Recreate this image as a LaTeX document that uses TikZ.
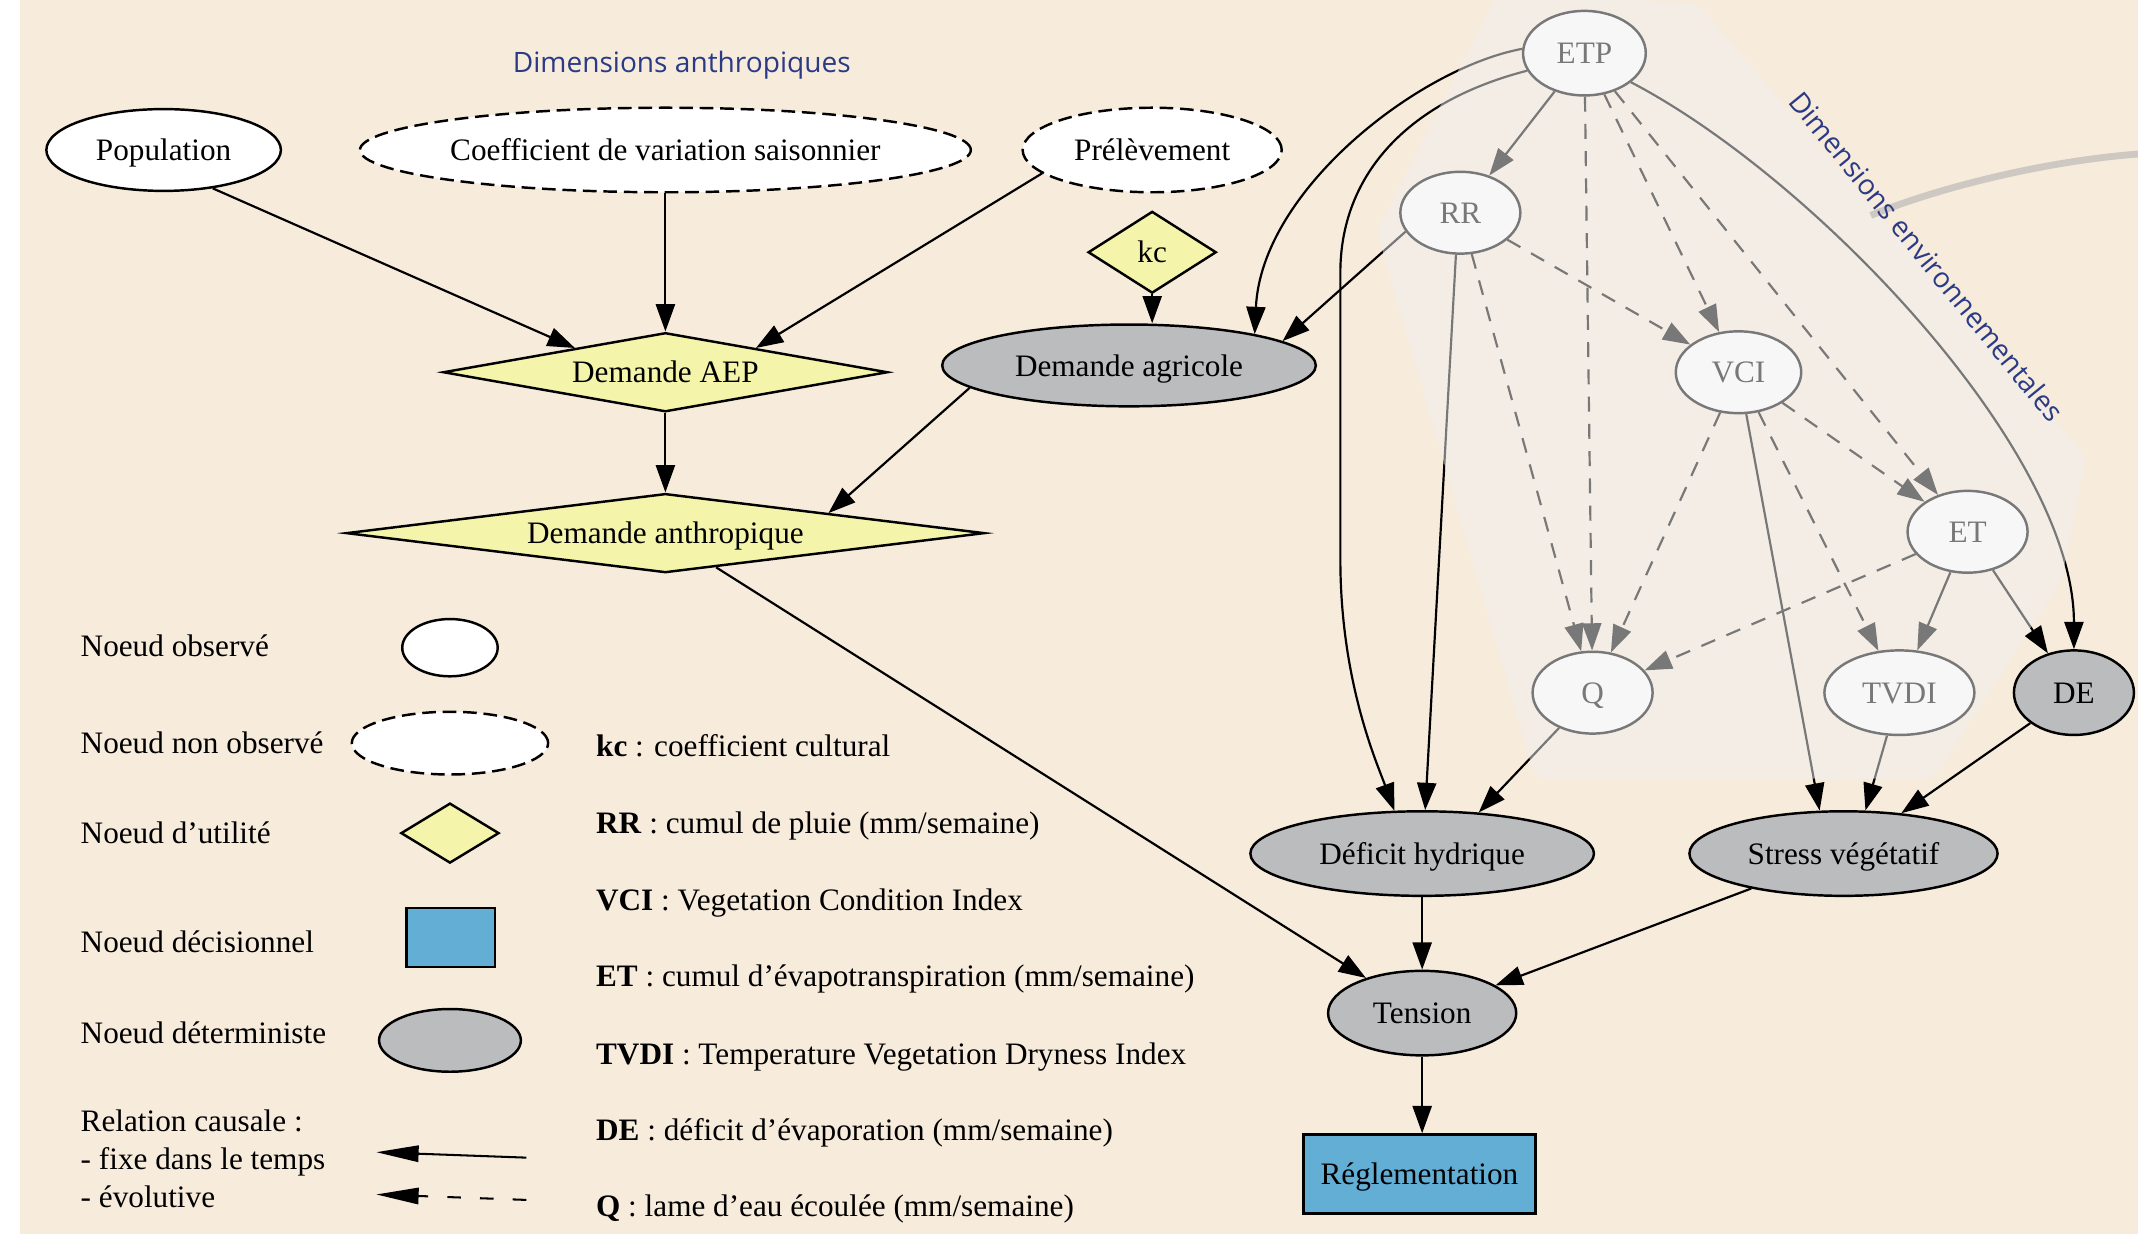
\documentclass[tikz,border=0pt]{standalone}
\usepackage{fontspec}
\setmainfont{Liberation Serif}
\newfontfamily\dimfont{Open Sans}
\usetikzlibrary{shapes.geometric,arrows.meta}
\definecolor{bgbeige}{HTML}{F7EBDC}
\definecolor{utilyellow}{HTML}{F4F4AB}
\definecolor{detgray}{HTML}{BBBCBE}
\definecolor{decblue}{HTML}{62AED5}
\definecolor{dimblue}{HTML}{2B3A85}
\definecolor{veilgray}{HTML}{F0F0F0}
\definecolor{arcgray}{HTML}{CEC8C2}
\newcommand\nodefont{\fontsize{22.9pt}{27pt}\selectfont}
\newcommand\dimsize{\dimfont\fontsize{20.6pt}{24pt}\selectfont}
\begin{document}
\begin{tikzpicture}[x=1pt,y=-1pt,
  every node/.style={font=\nodefont, inner sep=0pt},
  gnode/.style={draw=black, line width=1.8pt, text height=15.6pt, text depth=0pt},
  obsnode/.style={gnode, ellipse, fill=white},
  hidnode/.style={obsnode, dash pattern=on 10pt off 5pt},
  utilnode/.style={gnode, diamond, fill=utilyellow, shape aspect=8},
  detnode/.style={gnode, ellipse, fill=detgray},
  decnode/.style={gnode, rectangle, fill=decblue},
  legshape/.style={text height=0pt, text depth=0pt, shape aspect=1},
  link/.style={line width=1.6pt, -{Triangle[length=20pt,width=14pt]}},
  evolink/.style={link, dash pattern=on 11pt off 9pt},
  legtext/.style={anchor=west, text height=16pt, text depth=5pt},
  dimlabel/.style={font=\dimsize, text=dimblue},
]
% background
\fill[white] (0,0) rectangle (1568,905);
\fill[bgbeige] (14.7,0) rectangle (1568,905);
\useasboundingbox (0,0) rectangle (1568,905);

% anthropic nodes
\node[obsnode, minimum width=172pt, minimum height=60pt] (pop) at (120,110) {Population};
\node[hidnode, minimum width=448pt, minimum height=62pt] (coef) at (488,110) {Coefficient de variation saisonnier};
\node[hidnode, minimum width=190pt, minimum height=62pt] (prel) at (845,110) {Prélèvement};
\node[utilnode, shape aspect=1.5, minimum width=94pt, minimum height=60pt] (kc) at (845,185) {kc};
\node[utilnode, minimum width=326pt, minimum height=58pt] (aep) at (488,273) {Demande AEP};
\node[detnode, minimum width=274pt, minimum height=60pt] (agri) at (828,268) {Demande agricole};
\node[utilnode, minimum width=468pt, minimum height=58pt] (anth) at (488,391) {Demande anthropique};

% environmental nodes
\node[obsnode, minimum width=90pt, minimum height=62pt] (etp) at (1162,39) {ETP};
\node[obsnode, minimum width=88pt, minimum height=60pt] (rr) at (1071,156) {RR};
\node[obsnode, minimum width=92pt, minimum height=60pt] (vci) at (1275,273) {VCI};
\node[obsnode, minimum width=88pt, minimum height=60pt] (et) at (1443,390) {ET};
\node[obsnode, minimum width=88pt, minimum height=60pt] (q) at (1168,508) {Q};
\node[obsnode, minimum width=110pt, minimum height=62pt] (tvdi) at (1393,508) {TVDI};
\node[detnode, minimum width=88pt, minimum height=62pt] (de) at (1521,508) {DE};

% lower nodes
\node[detnode, minimum width=252pt, minimum height=62pt] (def) at (1043,626) {Déficit hydrique};
\node[detnode, minimum width=226pt, minimum height=62pt] (stress) at (1352,626) {Stress végétatif};
\node[detnode, minimum width=138pt, minimum height=62pt] (tens) at (1043,743) {Tension};
\node[decnode, minimum width=170pt, minimum height=58pt] (regl) at (1041,861) {Réglementation};

% edges
\draw[link] (pop.-38) -- (aep.165);
\draw[link] (coef) -- (aep);
\draw[link] (prel.192) -- (aep.15);
\draw[link] (kc) -- (kc |- agri.north);
\draw[link] (aep) -- (anth);
\draw[link] (agri.188) -- (anth.7);
\draw[link] (anth.-34) -- (tens.148);
\draw[link] (etp.176) .. controls (1040,50) and (925,140) .. (agri.14.5);
\draw[link] (etp.197) .. controls (1030,75) and (983,130) .. (983,200) -- (983,410) .. controls (983,500) and (1010,560) .. (def.123);
\draw[link] (etp) -- (rr);
\draw[evolink] (etp) -- (q);
\draw[evolink] (etp) -- (vci);
\draw[evolink] (etp) -- (et);
\draw[link] (etp.-32.5) .. controls (1330,130) and (1521,330) .. (de.north);
\draw[link] (rr.199) -- (agri.9);
\draw[link] (rr.264) -- (def.86);
\draw[evolink] (rr) -- (vci);
\draw[evolink] (rr) -- (q);
\draw[evolink] (vci) -- (q);
\draw[link] (vci) -- (stress.119);
\draw[evolink] (vci) -- (tvdi);
\draw[evolink] (vci) -- (et);
\draw[evolink] (et) -- (q);
\draw[link] (et) -- (tvdi);
\draw[link] (et) -- (de);
\draw[link] (q) -- (def.36);
\draw[link] (tvdi) -- (stress.63);
\draw[link] (de) -- (stress);
\draw[link] (def) -- (tens);
\draw[link] (stress) -- (tens);
\draw[link] (tens) -- (tens |- regl.north);

% legend (left)
\node[legtext] (l1) at (59,476) {Noeud observé};
\node[legtext] (l2) at (59,547) {Noeud non observé};
\node[legtext] (l3) at (59,613) {Noeud d’utilité};
\node[legtext] (l4) at (59,693) {Noeud décisionnel};
\node[legtext] (l5) at (59,760) {Noeud déterministe};
\node[legtext] (l6) at (59,824) {Relation causale :};
\node[legtext] (l7) at (59,852) {- fixe dans le temps};
\node[legtext] (l8) at (59,880) {- évolutive};

\node[obsnode, legshape, minimum width=70pt, minimum height=42pt] (sobs) at (330,475) {};
\node[hidnode, legshape, minimum width=144pt, minimum height=46pt] (shid) at (330,545) {};
\node[utilnode, legshape, minimum width=72pt, minimum height=44pt] (sutil) at (330,611) {};
\node[decnode, legshape, minimum width=65pt, minimum height=43pt] (sdec) at (330.5,687.5) {};
\node[detnode, legshape, minimum width=104pt, minimum height=46pt] (sdet) at (330,763) {};

\coordinate (fixs) at (386,849);
\coordinate (fixe) at (276,845);
\draw[line width=1.5pt, -{Triangle[length=31pt,width=12pt]}] (fixs) -- (fixe);
\coordinate (evos) at (386,880);
\coordinate (evoe) at (276,876);
\draw[line width=1.5pt, dash pattern=on 10pt off 14pt, -{Triangle[length=31pt,width=12pt]}] (evos) -- (evoe);

% legend (abbreviations)
\node[legtext] (k1) at (437,549) {\textbf{kc} : coefficient cultural};
\node[legtext] (k2) at (437,606) {\textbf{RR} : cumul de pluie (mm/semaine)};
\node[legtext] (k3) at (437,662) {\textbf{VCI} : Vegetation Condition Index};
\node[legtext] (k4) at (437,718) {\textbf{ET} : cumul d’évapotranspiration (mm/semaine)};
\node[legtext] (k5) at (437,775) {\textbf{TVDI} : Temperature Vegetation Dryness Index};
\node[legtext] (k6) at (437,831) {\textbf{DE} : déficit d’évaporation (mm/semaine)};
\node[legtext] (k7) at (437,887) {\textbf{Q} : lame d’eau écoulée (mm/semaine)};

% translucent veil over the environmental cluster
\fill[veilgray, opacity=0.5, rounded corners=8pt]
  (1100,-8) -- (1245,3) -- (1530,335) -- (1512,425) -- (1418,571)
  -- (1126,571) -- (1010,170) -- (1055,80) -- cycle;

% decorative arc and group labels
\draw[arcgray, line width=5pt] (1372,158) .. controls (1420,138) and (1500,118) .. (1568,113);
\node[dimlabel] (tanth) at (500,48) {Dimensions anthropiques};
\node[dimlabel, rotate=-50.8] (tenv) at (1413,188) {Dimensions environnementales};
\end{tikzpicture}
\end{document}
